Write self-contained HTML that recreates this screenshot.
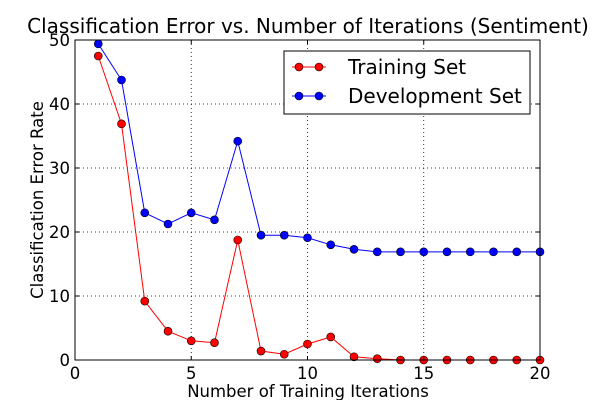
<!DOCTYPE html>
<html><head><meta charset="utf-8"><style>
body{margin:0;background:#fff;}
svg{display:block;font-family:"DejaVu Sans","Liberation Sans",sans-serif;}
</style></head><body>
<svg id="c" width="600" height="400" viewBox="0 0 600 400"></svg>
<script>
const iterations=[1,2,3,4,5,6,7,8,9,10,11,12,13,14,15,16,17,18,19,20];
const trainingErr=[47.5,36.9,9.2,4.5,3.0,2.7,18.75,1.4,0.9,2.5,3.6,0.5,0.2,0,0,0,0,0,0,0];
const devErr=[49.4,43.75,23,21.25,23,21.9,34.2,19.5,19.5,19.1,18,17.3,16.9,16.9,16.9,16.9,16.9,16.9,16.9,16.9];
const xTicks=[0,5,10,15,20];
const yTicks=[0,10,20,30,40,50];
const NS="http://www.w3.org/2000/svg";
const svg=document.getElementById('c');
const L=75,R=540,T=40,B=360;
const xs=v=>L+(v-0)/20*(R-L);
const ys=v=>B-(v-0)/50*(B-T);
function mk(tag,attrs,parent){const e=document.createElementNS(NS,tag);for(const k in attrs)e.setAttribute(k,attrs[k]);(parent||svg).appendChild(e);return e;}
xTicks.forEach(t=>{if(t>0&&t<20){const g=mk('line',{x1:xs(t),x2:xs(t),y1:T,y2:B,stroke:'#000','stroke-dasharray':'1,3','stroke-width':0.8});

}});
yTicks.forEach(t=>{if(t>0&&t<50){const g=mk('line',{x1:L,x2:R,y1:ys(t),y2:ys(t),stroke:'#000','stroke-dasharray':'1,3','stroke-width':0.8});

}});
function series(vals,color,name){
 const g=mk('g',{});
 
 
 mk('polyline',{points:iterations.map((x,i)=>xs(x)+','+ys(vals[i])).join(' '),fill:'none',stroke:color,'stroke-width':1},g);
 iterations.forEach((x,i)=>{const c=mk('circle',{cx:xs(x),cy:ys(vals[i]),r:4,fill:color,stroke:'#000','stroke-width':0.6},g);
 
 });
}
series(trainingErr,'#ff0000','training-series');
series(devErr,'#0000ff','development-series');
const fr=mk('rect',{x:L,y:T,width:R-L,height:B-T,fill:'none',stroke:'#000','stroke-width':1});


xTicks.forEach(t=>{mk('line',{x1:xs(t),x2:xs(t),y1:B,y2:B-4,stroke:'#000'});mk('line',{x1:xs(t),x2:xs(t),y1:T,y2:T+4,stroke:'#000'});
 const tx=mk('text',{x:xs(t),y:B+19,'text-anchor':'middle','font-size':16.5});tx.textContent=t;
 
 });
yTicks.forEach(t=>{mk('line',{x1:L,x2:L+4,y1:ys(t),y2:ys(t),stroke:'#000'});mk('line',{x1:R,x2:R-4,y1:ys(t),y2:ys(t),stroke:'#000'});
 const tx=mk('text',{x:L-5,y:ys(t)+6,'text-anchor':'end','font-size':16.5});tx.textContent=t;
 
 });
</script>
<svg width="600" height="400" style="position:absolute;left:0;top:0">
<text x="308" y="33" text-anchor="middle" font-size="20" font-family="DejaVu Sans,sans-serif">Classification Error vs. Number of Iterations (Sentiment)</text>
<text x="308" y="397" text-anchor="middle" font-size="16.5" font-family="DejaVu Sans,sans-serif">Number of Training Iterations</text>
<text transform="translate(43,200) rotate(-90)" text-anchor="middle" font-size="16.5" font-family="DejaVu Sans,sans-serif">Classification Error Rate</text>
<g>
<rect x="284" y="51" width="246" height="63" fill="#fff" stroke="#000"/>
<g>
<line x1="292" x2="326" y1="67" y2="67" stroke="#ff0000"/><circle cx="299" cy="67" r="4" fill="#ff0000" stroke="#000" stroke-width="0.6"/><circle cx="319" cy="67" r="4" fill="#ff0000" stroke="#000" stroke-width="0.6"/>
<text x="348" y="74" font-size="20" font-family="DejaVu Sans,sans-serif">Training Set</text></g>
<g>
<line x1="292" x2="326" y1="96" y2="96" stroke="#0000ff"/><circle cx="299" cy="96" r="4" fill="#0000ff" stroke="#000" stroke-width="0.6"/><circle cx="319" cy="96" r="4" fill="#0000ff" stroke="#000" stroke-width="0.6"/>
<text x="348" y="103" font-size="20" font-family="DejaVu Sans,sans-serif">Development Set</text></g>
</g>
</svg>
</body></html>
